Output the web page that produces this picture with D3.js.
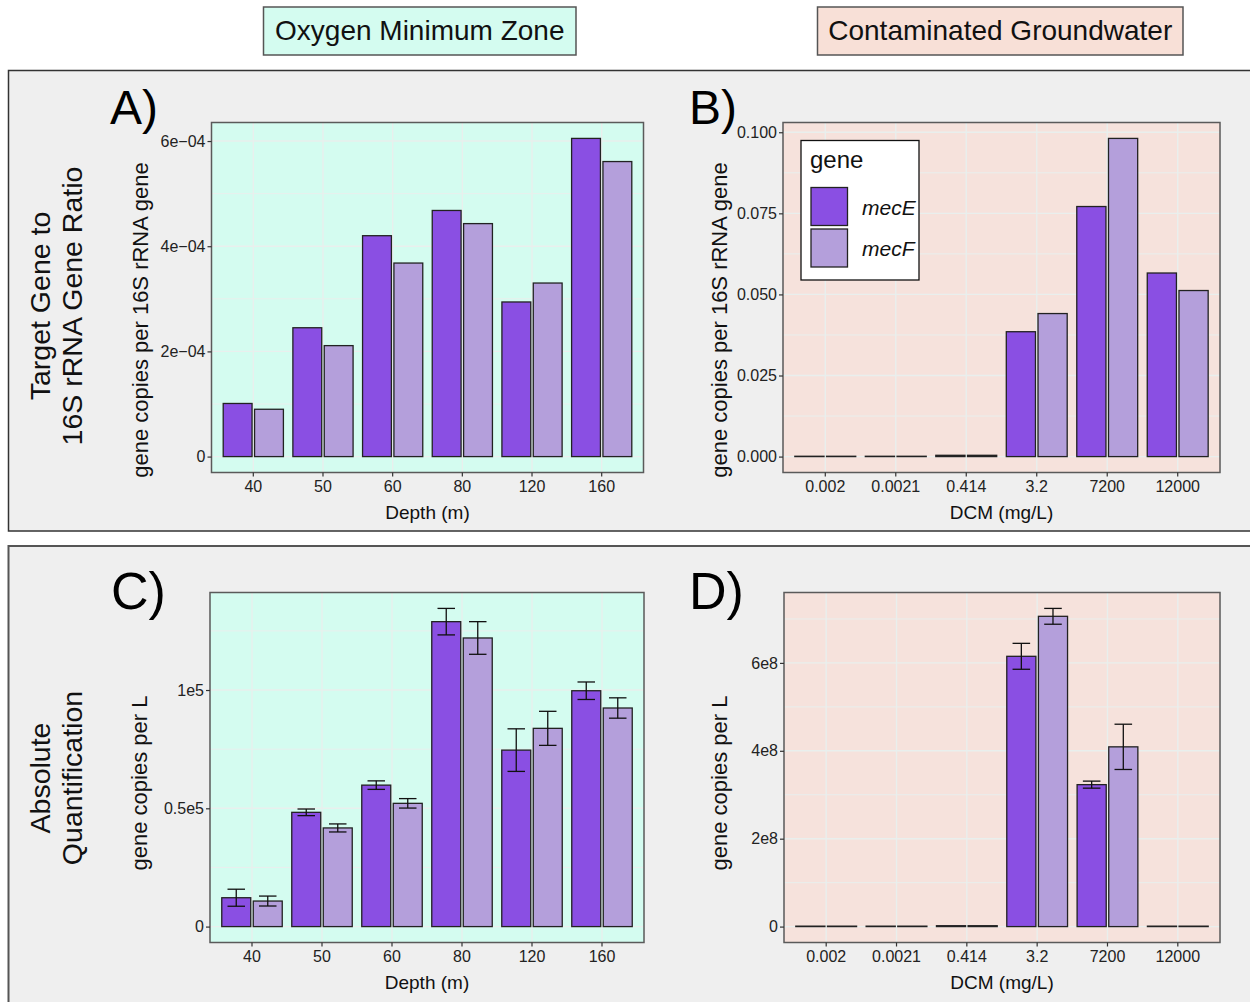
<!DOCTYPE html>
<html><head><meta charset="utf-8">
<script src="https://cdn.jsdelivr.net/npm/d3@7"></script>
<style>
body{margin:0;background:#fff;}
text{font-family:"Liberation Sans",Arial,sans-serif;}
</style></head>
<body><svg id="c" width="1250" height="1002"></svg>
<script>
// ---------- data ----------
const depthCats = ["40","50","60","80","120","160"];
const dcmCats = ["0.002","0.0021","0.414","3.2","7200","12000"];
const genes = ["mecE","mecF"];

const ratioOmzMecE = [1.01e-4, 2.45e-4, 4.20e-4, 4.68e-4, 2.94e-4, 6.05e-4];
const ratioOmzMecF = [0.90e-4, 2.11e-4, 3.68e-4, 4.43e-4, 3.30e-4, 5.61e-4];
const ratioGwMecE = [0.0001, 0.0001, 0.0004, 0.0385, 0.0771, 0.0566];
const ratioGwMecF = [0.0001, 0.0001, 0.0004, 0.0441, 0.0981, 0.0512];

const absOmzMecE = [12200, 48300, 59800, 128900, 74600, 99700];
const absOmzMecEErr = [3600, 1400, 1800, 5600, 9000, 3700];
const absOmzMecF = [10800, 41700, 52100, 122000, 83800, 92400];
const absOmzMecFErr = [2100, 1700, 2000, 6900, 7200, 4300];
const absGwMecE = [1e6, 1e6, 2e6, 6.15e8, 3.23e8, 1e6];
const absGwMecEErr = [0, 0, 0, 0.295e8, 0.08e8, 0];
const absGwMecF = [1e6, 1e6, 2e6, 7.06e8, 4.09e8, 1e6];
const absGwMecFErr = [0, 0, 0, 0.18e8, 0.515e8, 0];

const ticksA = [0, 2e-4, 4e-4, 6e-4];
const tickLabelsA = ["0", "2e\u221204", "4e\u221204", "6e\u221204"];
const minorA = [1e-4, 3e-4, 5e-4];
const ticksB = [0, 0.025, 0.05, 0.075, 0.1];
const tickLabelsB = ["0.000", "0.025", "0.050", "0.075", "0.100"];
const minorB = [0.0125, 0.0375, 0.0625, 0.0875];
const ticksC = [0, 50000, 100000];
const tickLabelsC = ["0", "0.5e5", "1e5"];
const minorC = [25000, 75000, 125000];
const ticksD = [0, 2e8, 4e8, 6e8];
const tickLabelsD = ["0", "2e8", "4e8", "6e8"];
const minorD = [1e8, 3e8, 5e8, 7e8];

// ---------- style ----------
const geneColor = {mecE: "#8a4fe3", mecF: "#b49fdb"};
const mint = "#d4fcf0", salmon = "#f6e2dc";

const svg = d3.select("#c");

// outer grey frames
svg.append("rect").attr("x", 8.5).attr("y", 70.5).attr("width", 1300).attr("height", 460.5)
  .attr("fill", "#efefef").attr("stroke", "#333").attr("stroke-width", 1.5);
svg.append("rect").attr("x", 8.5).attr("y", 546).attr("width", 1300).attr("height", 500)
  .attr("fill", "#efefef").attr("stroke", "#555").attr("stroke-width", 2);

// header boxes
function header(x0, x1, fill, label) {
  svg.append("rect").attr("x", x0).attr("y", 7).attr("width", x1 - x0).attr("height", 48)
    .attr("fill", fill).attr("stroke", "#555").attr("stroke-width", 1.5);
  svg.append("text").attr("x", (x0 + x1) / 2).attr("y", 40).attr("text-anchor", "middle")
    .attr("font-size", 28).attr("fill", "#111").text(label);
}
header(263.5, 576, mint, "Oxygen Minimum Zone");
header(817.5, 1183, "#f8e0d7", "Contaminated Groundwater");

// row titles
function rowTitle(lines, cy) {
  const g = svg.append("g").attr("transform", `translate(56,${cy}) rotate(-90)`);
  lines.forEach((l, i) => {
    g.append("text").attr("x", 0).attr("y", (i - 0.5) * 32).attr("dy", "0.36em")
      .attr("text-anchor", "middle").attr("font-size", 28.5).attr("fill", "#111").text(l);
  });
}
rowTitle(["Target Gene to", "16S rRNA Gene Ratio"], 306);
rowTitle(["Absolute", "Quantification"], 778);

function panel(o) {
  const g = svg.append("g");
  const x = d3.scaleBand().domain(o.cats).range([o.left, o.right]).paddingInner(0).paddingOuter(0.1);
  const step = x.step();
  const x1 = d3.scaleBand().domain(genes).range([-0.45 * step, 0.45 * step]);
  let maxV = 0;
  o.vals.forEach((arr, gi) => arr.forEach((v, i) => {
    const e = o.errs ? o.errs[gi][i] : 0;
    maxV = Math.max(maxV, v + e);
  }));
  const pad = maxV * 0.05;
  const y = d3.scaleLinear().domain([-pad, maxV + pad]).range([o.bottom, o.top]);

  g.append("rect").attr("x", o.left).attr("y", o.top).attr("width", o.right - o.left)
    .attr("height", o.bottom - o.top).attr("fill", o.bg);
  // grid
  const gridCol = "#e9efed";
  o.minor.forEach(v => g.append("line").attr("x1", o.left).attr("x2", o.right)
    .attr("y1", y(v)).attr("y2", y(v)).attr("stroke", gridCol).attr("stroke-width", 1));
  o.ticks.forEach(v => g.append("line").attr("x1", o.left).attr("x2", o.right)
    .attr("y1", y(v)).attr("y2", y(v)).attr("stroke", gridCol).attr("stroke-width", 1.4));
  o.cats.forEach(c => g.append("line").attr("y1", o.top).attr("y2", o.bottom)
    .attr("x1", x(c) + step / 2).attr("x2", x(c) + step / 2).attr("stroke", gridCol).attr("stroke-width", 1.4));

  // bars
  const bw = x1.bandwidth() * 0.92;
  genes.forEach((gn, gi) => {
    o.vals[gi].forEach((v, i) => {
      const cx = x(o.cats[i]) + step / 2 + x1(gn) + x1.bandwidth() / 2;
      g.append("rect").attr("x", cx - bw / 2).attr("width", bw)
        .attr("y", y(v)).attr("height", Math.max(0, y(0) - y(v)))
        .attr("fill", geneColor[gn]).attr("stroke", "#222").attr("stroke-width", 1.3);
      if (o.errs && o.errs[gi][i] > 0) {
        const e = o.errs[gi][i], cw = step * 0.125;
        g.append("line").attr("x1", cx).attr("x2", cx).attr("y1", y(v + e)).attr("y2", y(v - e))
          .attr("stroke", "#111").attr("stroke-width", 1.3);
        [v + e, v - e].forEach(t => g.append("line").attr("x1", cx - cw).attr("x2", cx + cw)
          .attr("y1", y(t)).attr("y2", y(t)).attr("stroke", "#111").attr("stroke-width", 1.3));
      }
    });
  });

  // border
  g.append("rect").attr("x", o.left).attr("y", o.top).attr("width", o.right - o.left)
    .attr("height", o.bottom - o.top).attr("fill", "none").attr("stroke", "#5a5a5a").attr("stroke-width", 1.5);

  // axes
  const ax = g.append("g").attr("transform", `translate(0,${o.bottom})`)
    .call(d3.axisBottom(x).tickSize(4).tickPadding(4));
  const ay = g.append("g").attr("transform", `translate(${o.left},0)`)
    .call(d3.axisLeft(y).tickValues(o.ticks).tickFormat((d, i) => o.tickLabels[i]).tickSize(4).tickPadding(2));
  [ax, ay].forEach(a => {
    a.select(".domain").remove();
    a.selectAll(".tick line").attr("stroke", "#333").attr("stroke-width", 1.2);
    a.selectAll(".tick text").attr("font-size", 16).attr("fill", "#222")
      .attr("font-family", "Liberation Sans, Arial, sans-serif");
  });

  // titles
  g.append("text").attr("x", (o.left + o.right) / 2).attr("y", o.bottom + 46)
    .attr("text-anchor", "middle").attr("font-size", 19).attr("fill", "#111").text(o.xTitle);
  g.append("text").attr("transform", `translate(${o.yTitleX},${o.yTitleY}) rotate(-90)`)
    .attr("text-anchor", "middle").attr("dy", "0.36em").attr("font-size", 22).attr("fill", "#111").text(o.yTitle);
  g.append("text").attr("x", o.letterX).attr("y", o.letterY).attr("font-size", o.letterSize)
    .attr("fill", "#000").text(o.letter);
  return {x, y};
}

panel({left: 211.5, right: 643.5, top: 122.5, bottom: 472.5, cats: depthCats,
  vals: [ratioOmzMecE, ratioOmzMecF], errs: null, bg: mint,
  ticks: ticksA, tickLabels: tickLabelsA, minor: minorA,
  xTitle: "Depth (m)", yTitle: "gene copies per 16S rRNA gene", yTitleX: 140, yTitleY: 320,
  letter: "A)", letterX: 110, letterY: 124, letterSize: 48});

panel({left: 783, right: 1220, top: 122.5, bottom: 472.5, cats: dcmCats,
  vals: [ratioGwMecE, ratioGwMecF], errs: null, bg: salmon,
  ticks: ticksB, tickLabels: tickLabelsB, minor: minorB,
  xTitle: "DCM (mg/L)", yTitle: "gene copies per 16S rRNA gene", yTitleX: 719, yTitleY: 320,
  letter: "B)", letterX: 689, letterY: 124, letterSize: 48});

panel({left: 210, right: 644, top: 592.5, bottom: 942.5, cats: depthCats,
  vals: [absOmzMecE, absOmzMecF], errs: [absOmzMecEErr, absOmzMecFErr], bg: mint,
  ticks: ticksC, tickLabels: tickLabelsC, minor: minorC,
  xTitle: "Depth (m)", yTitle: "gene copies per L", yTitleX: 139, yTitleY: 783,
  letter: "C)", letterX: 111, letterY: 609, letterSize: 52});

panel({left: 784, right: 1220, top: 592.5, bottom: 942.5, cats: dcmCats,
  vals: [absGwMecE, absGwMecF], errs: [absGwMecEErr, absGwMecFErr], bg: salmon,
  ticks: ticksD, tickLabels: tickLabelsD, minor: minorD,
  xTitle: "DCM (mg/L)", yTitle: "gene copies per L", yTitleX: 719, yTitleY: 783,
  letter: "D)", letterX: 689, letterY: 609, letterSize: 52});

// legend (in panel B)
const lg = svg.append("g");
lg.append("rect").attr("x", 801).attr("y", 140.5).attr("width", 118).attr("height", 139.5)
  .attr("fill", "#fff").attr("stroke", "#111").attr("stroke-width", 1.3);
lg.append("text").attr("x", 810).attr("y", 168).attr("font-size", 24).attr("fill", "#111").text("gene");
genes.forEach((gn, i) => {
  const y0 = 187.5 + i * 41.5;
  lg.append("rect").attr("x", 811).attr("y", y0).attr("width", 36.5).attr("height", 38)
    .attr("fill", geneColor[gn]).attr("stroke", "#222").attr("stroke-width", 1.3);
  lg.append("text").attr("x", 862).attr("y", y0 + 27).attr("font-size", 21)
    .attr("font-style", "italic").attr("fill", "#111").text(gn);
});
</script></body></html>
